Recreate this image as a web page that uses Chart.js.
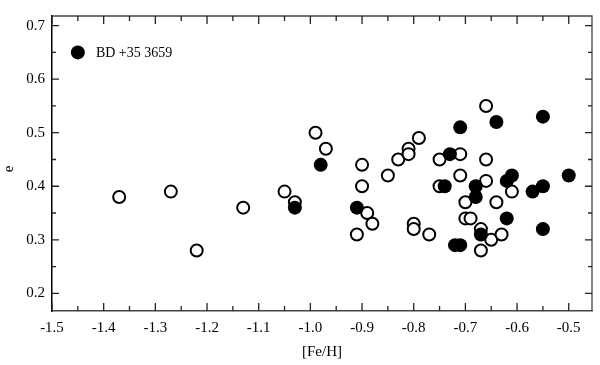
<!DOCTYPE html>
<html>
<head>
<meta charset="utf-8">
<script src="https://cdn.jsdelivr.net/npm/chart.js@4"></script>
<style>
    html, body { margin: 0; padding: 0; background: #fff; }
    #wrap { width: 600px; height: 365px; }
</style>
</head>
<body>
<div id="wrap"><canvas id="chart"></canvas></div>
<script>
// open circles
const openFeH = [-1.37, -1.27, -1.22, -1.13, -1.05, -1.03, -0.99, -0.97, -0.91, -0.90, -0.90, -0.89, -0.88,
    -0.85, -0.83, -0.81, -0.81, -0.80, -0.80, -0.79, -0.77, -0.75, -0.75, -0.71, -0.71, -0.70, -0.70, -0.69,
    -0.67, -0.67, -0.66, -0.66, -0.66, -0.65, -0.64, -0.63, -0.61]
const openE = [0.38, 0.39, 0.28, 0.36, 0.39, 0.37, 0.50, 0.47, 0.31, 0.44, 0.40, 0.35, 0.33,
    0.42, 0.45, 0.47, 0.46, 0.33, 0.32, 0.49, 0.31, 0.45, 0.40, 0.46, 0.42, 0.37, 0.34, 0.34,
    0.32, 0.28, 0.55, 0.45, 0.41, 0.30, 0.37, 0.31, 0.39]

// filled circles
const filledFeH = [-1.45, -1.03, -0.98, -0.91, -0.74, -0.73, -0.72, -0.71, -0.71, -0.68, -0.68, -0.67,
    -0.64, -0.62, -0.62, -0.61, -0.57, -0.55, -0.55, -0.55, -0.50]
const filledE = [0.65, 0.36, 0.44, 0.36, 0.40, 0.46, 0.29, 0.29, 0.51, 0.40, 0.38, 0.31,
    0.52, 0.41, 0.34, 0.42, 0.39, 0.53, 0.40, 0.32, 0.42]

const xMajor = [-1.5, -1.4, -1.3, -1.2, -1.1, -1.0, -0.9, -0.8, -0.7, -0.6, -0.5]
const xMinor = [-1.45, -1.35, -1.25, -1.15, -1.05, -0.95, -0.85, -0.75, -0.65, -0.55]
const yMajor = [0.2, 0.3, 0.4, 0.5, 0.6, 0.7]
const yMinor = [0.25, 0.35, 0.45, 0.55, 0.65]

const label = { text: "BD +35 3659", x: -1.415, y: 0.648 }

const serif = "'Liberation Serif', 'DejaVu Serif', serif"

function toPoints(xs, ys) {
    return xs.map((x, i) => ({ x, y: ys[i] }))
}

const frameTicks = {
    id: "frameTicks",
    afterDraw(chart) {
        const { ctx, chartArea: a, scales } = chart
        const xs = scales.x
        const ys = scales.y
        ctx.save()
        ctx.lineWidth = 1.3
        ctx.strokeStyle = "#444"
        // top and right frame
        ctx.beginPath()
        ctx.moveTo(a.left, a.top)
        ctx.lineTo(a.right, a.top)
        ctx.lineTo(a.right, a.bottom)
        ctx.stroke()

        ctx.strokeStyle = "#222"
        const drawX = (vals, len) => {
            vals.forEach((v) => {
                const px = xs.getPixelForValue(v)
                ctx.beginPath()
                ctx.moveTo(px, a.bottom)
                ctx.lineTo(px, a.bottom - len)
                ctx.moveTo(px, a.top)
                ctx.lineTo(px, a.top + len)
                ctx.stroke()
            })
        }
        const drawY = (vals, len) => {
            vals.forEach((v) => {
                const py = ys.getPixelForValue(v)
                ctx.beginPath()
                ctx.moveTo(a.left, py)
                ctx.lineTo(a.left + len, py)
                ctx.moveTo(a.right, py)
                ctx.lineTo(a.right - len, py)
                ctx.stroke()
            })
        }
        drawX(xMajor, 8)
        drawX(xMinor, 5)
        drawY(yMajor, 7)
        drawY(yMinor, 4)

        ctx.fillStyle = "#000"
        ctx.font = `14px ${serif}`
        ctx.textBaseline = "middle"
        ctx.textAlign = "left"
        ctx.fillText(label.text, xs.getPixelForValue(label.x), ys.getPixelForValue(label.y))

        // y axis title, rotated
        ctx.font = `15px ${serif}`
        ctx.textAlign = "center"
        ctx.translate(9, 169)
        ctx.rotate(-Math.PI / 2)
        ctx.fillText("e", 0, 0)
        ctx.restore()
    },
}

new Chart(document.getElementById("chart"), {
    type: "scatter",
    data: {
        datasets: [
            {
                label: "filled",
                data: toPoints(filledFeH, filledE),
                pointRadius: 7,
                pointBorderWidth: 0,
                pointBackgroundColor: "#000",
                pointBorderColor: "#000",
                order: 0,
            },
            {
                label: "open",
                data: toPoints(openFeH, openE),
                pointRadius: 6,
                pointBorderWidth: 2,
                pointBackgroundColor: "#fff",
                pointBorderColor: "#000",
                order: 1,
            },
        ],
    },
    options: {
        responsive: true,
        maintainAspectRatio: false,
        animation: false,
        layout: { padding: { top: 6, right: 4, left: 0, bottom: 0 } },
        plugins: {
            legend: { display: false },
            tooltip: { enabled: false },
        },
        scales: {
            x: {
                type: "linear",
                min: -1.5,
                max: -0.455,
                afterBuildTicks(scale) {
                    scale.ticks = xMajor.map((v) => ({ value: v }))
                },
                afterFit(scale) {
                    scale.height = 54
                },
                grid: { display: false, drawTicks: false },
                border: { display: true, color: "#444", width: 1.5 },
                ticks: {
                    color: "#000",
                    padding: 8,
                    maxRotation: 0,
                    autoSkip: false,
                    font: { family: serif, size: 15 },
                    callback: (v) => Number(v).toFixed(1),
                },
                title: {
                    display: true,
                    text: "[Fe/H]",
                    color: "#000",
                    font: { family: serif, size: 15 },
                    padding: { top: 6 },
                },
            },
            y: {
                type: "linear",
                min: 0.167,
                max: 0.718,
                afterBuildTicks(scale) {
                    scale.ticks = yMajor.map((v) => ({ value: v }))
                },
                afterFit(scale) {
                    scale.width = 52
                },
                grid: { display: false, drawTicks: false },
                border: { display: true, color: "#000", width: 1.5 },
                ticks: {
                    color: "#000",
                    padding: 7,
                    autoSkip: false,
                    font: { family: serif, size: 15 },
                    callback: (v) => Number(v).toFixed(1),
                },
                title: { display: false },
            },
        },
    },
    plugins: [frameTicks],
})
</script>
</body>
</html>
